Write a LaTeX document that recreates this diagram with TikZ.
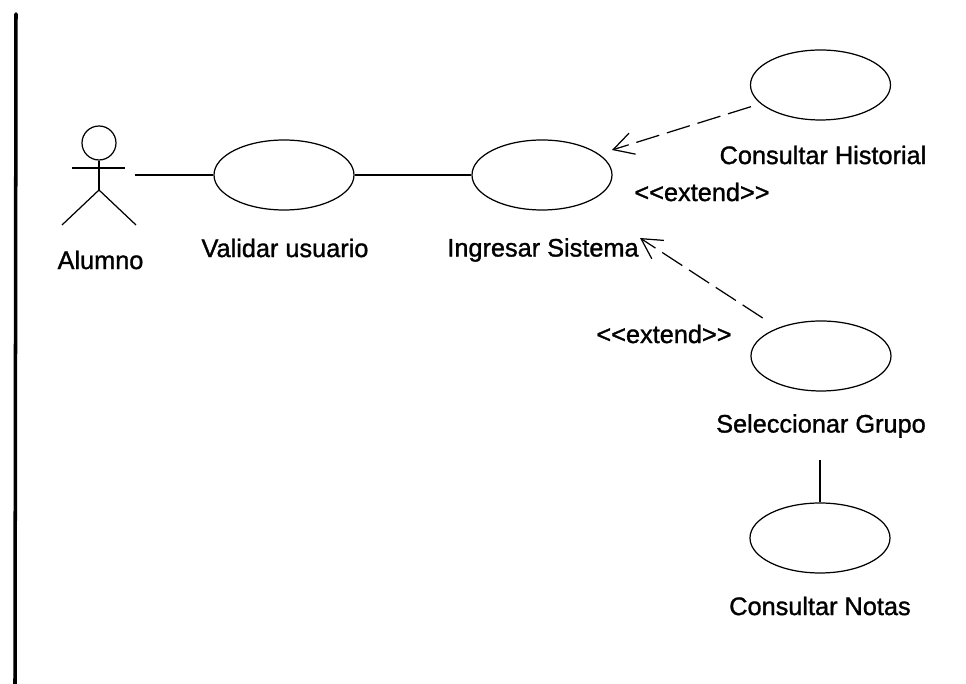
\documentclass[tikz,border=0pt]{standalone}
\usepackage{fontspec}
\setmainfont[FakeBold=1.2]{Liberation Sans}
\usepackage{tikz}
\usetikzlibrary{shapes.geometric}
\usetikzlibrary{arrows.meta}

\tikzset{
  usecase/.style={draw, ellipse, line width=.35pt, minimum width=1.4cm, minimum height=.7cm, inner sep=0pt},
  caselabel/.style={font=\fontsize{7.2pt}{9pt}\selectfont, inner sep=0pt},
  assoc/.style={line width=.35pt},
  extendline/.style={line width=.35pt, dash pattern=on .24cm off .08cm, -{Straight Barb[length=.2cm, width=.22cm]}}
}

\begin{document}
\begin{tikzpicture}
    \useasboundingbox (0, 0) rectangle (9.66, 6.84);
    \draw[line width=1pt, line cap=round] (.15, 0) -- (.16, 6.7);
    % actor
    \node[draw, circle, line width=.35pt, minimum size=.34cm, inner sep=0pt] (head) at (.99, 5.41) {};
    \coordinate (hip) at (.99, 4.94);
    \coordinate (armL) at (.72, 5.16);
    \coordinate (armR) at (1.25, 5.16);
    \coordinate (footL) at (.62, 4.59);
    \coordinate (footR) at (1.36, 4.59);
    \coordinate (hand) at (1.35, 5.09);
    \draw[assoc] (head) -- (hip);
    \draw[assoc] (armL) -- (armR);
    \draw[assoc] (footL) -- (hip) -- (footR);
    % use cases
    \node[usecase] (validar) at (2.84, 5.09) {};
    \node[usecase] (ingresar) at (5.42, 5.09) {};
    \node[usecase] (historial) at (8.205, 5.99) {};
    \node[usecase] (grupo) at (8.21, 3.28) {};
    \node[usecase] (notas) at (8.2, 1.46) {};
    % labels
    \node[caselabel] (alumno) at (1.005, 4.24) {Alumno};
    \node[caselabel] (lblvalidar) at (2.85, 4.36) {Validar usuario};
    \node[caselabel] (lblingresar) at (5.43, 4.34) {Ingresar Sistema};
    \node[caselabel] (lblhistorial) at (8.23, 5.29) {Consultar Historial};
    \node[caselabel] (lblgrupo) at (8.21, 2.58) {Seleccionar Grupo};
    \node[caselabel] (lblnotas) at (8.2, .78) {Consultar Notas};
    \node[caselabel] (extA) at (7.02, 4.92) {{<}{<}extend{>}{>}};
    \node[caselabel] (extB) at (6.64, 3.5) {{<}{<}extend{>}{>}};
    % connectors
    \coordinate (arrowA) at (6.12, 5.34);
    \coordinate (arrowB) at (6.4, 4.46);
    \coordinate (stub) at (8.2, 2.24);
    \draw[assoc] (hand) -- (validar);
    \draw[assoc] (validar) -- (ingresar);
    \draw[extendline, shorten <=.1cm] (historial) -- (arrowA);
    \draw[extendline, shorten <=.18cm] (grupo) -- (arrowB);
    \draw[assoc] (stub) -- (notas);
  \end{tikzpicture}
\end{document}
